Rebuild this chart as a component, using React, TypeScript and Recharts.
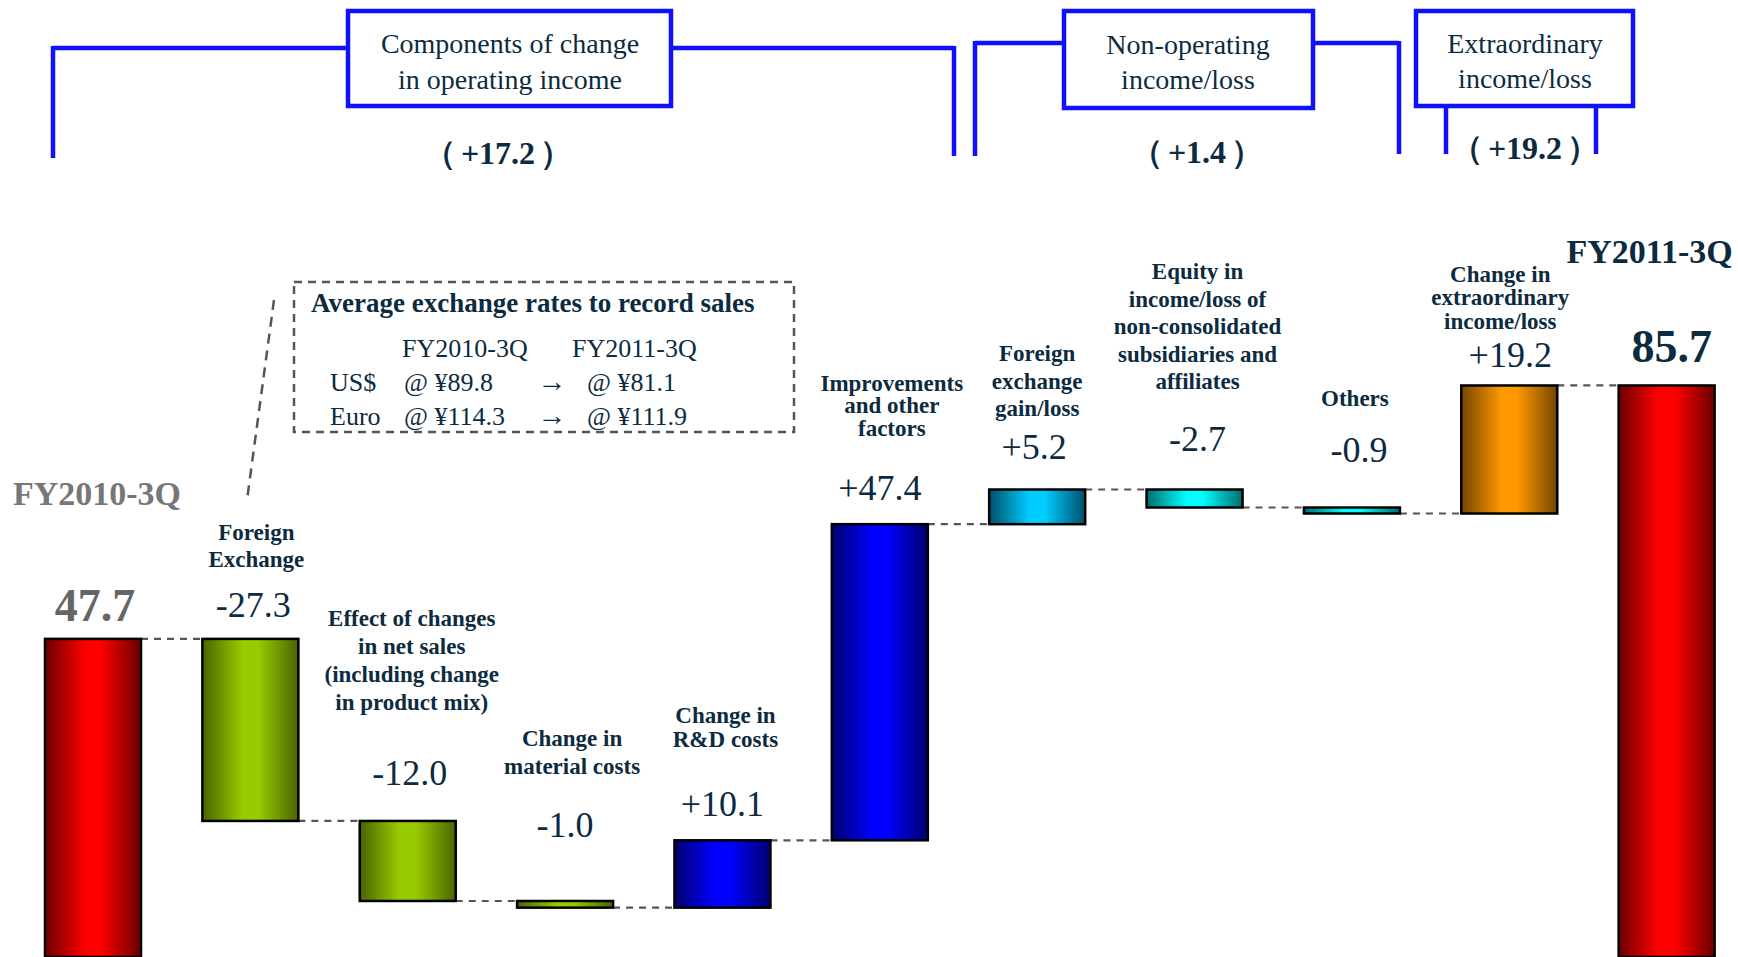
import React from 'react';
import { BarChart, Bar, XAxis, YAxis, LabelList } from 'recharts';

// waterfall: operating income FY2010-3Q -> FY2011-3Q (billion yen)
const categories = [
  'FY2010-3Q',
  'Foreign\nExchange',
  'Effect of changes\nin net sales\n(including change\nin product mix)',
  'Change in\nmaterial costs',
  'Change in\nR&D costs',
  'Improvements\nand other\nfactors',
  'Foreign\nexchange\ngain/loss',
  'Equity in\nincome/loss of\nnon-consolidated\nsubsidiaries and\naffiliates',
  'Others',
  'Change in\nextraordinary\nincome/loss',
  'FY2011-3Q',
];
const changes = [47.7, -27.3, -12.0, -1.0, 10.1, 47.4, 5.2, -2.7, -0.9, 19.2, 85.7];
const isTotal = [true, false, false, false, false, false, false, false, false, false, true];
const valueLabels = ['47.7', '-27.3', '-12.0', '-1.0', '+10.1', '+47.4', '+5.2', '-2.7', '-0.9', '+19.2', '85.7'];
const barColors = ['red', 'green', 'green', 'green', 'blue', 'blue', 'sky', 'aqua', 'aqua', 'orange', 'red'];

const groupTitles = [
  ['Components of change', 'in operating income'],
  ['Non-operating', 'income/loss'],
  ['Extraordinary', 'income/loss'],
];
const groupTotals = ['（+17.2）', '（+1.4）', '（+19.2）'];

const rateTitle = 'Average exchange rates to record sales';
const ratePeriods = ['FY2010-3Q', 'FY2011-3Q'];
const rateCurrencies = ['US$', 'Euro'];
const ratesBefore = ['@ ¥89.8', '@ ¥114.3'];
const ratesAfter = ['@ ¥81.1', '@ ¥111.9'];

const gradients: Record<string, [string, string]> = {
  red: ['#6a0000', '#ff0000'],
  green: ['#4a6400', '#99cc00'],
  blue: ['#00006e', '#0000ff'],
  sky: ['#004f6a', '#00ccff'],
  aqua: ['#006c6c', '#00ffff'],
  orange: ['#744500', '#ff9900'],
};

const NAVY = '#0c2b3f';
const BRACKET = '#1010ff';
const FONT = '"Liberation Serif", "Times New Roman", serif';

const W = 1738;
const H = 957;
const CHART_W = 1745;
const MARGIN = { top: 0, right: 0, left: 14, bottom: 0 };
const BAR = 96;
const Y_MAX = 143.5;
const BAND = (CHART_W - MARGIN.left - MARGIN.right) / categories.length;

// label placement above each bar top (px)
const valueLift = [33, 34, 48, 76, 36, 36, 43, 51, 58, 30, 39];
const valueShift = [2, 3, 2, 0, 0, 0, -3, 3, 7, 1, 5];
const nameLift = [145, 79, 118, 134, 101, 96, 81, 108, 109, 64, 134];
const nameShift = [4, 6, 4, 7, 3, 12, 0, 3, 3, -9, -17];
const nameLeading = [0, 27.5, 28.3, 28, 24, 22.5, 27.5, 27.5, 0, 23.5, 0];

const rows = (() => {
  let running = 0;
  return categories.map((name, i) => {
    if (isTotal[i]) {
      running = changes[i];
      return { name, idx: i, base: 0, size: changes[i] };
    }
    const start = running;
    running = start + changes[i];
    return { name, idx: i, base: Math.min(start, running), size: Math.abs(changes[i]) };
  });
})();

const WaterfallShape = (props: any) => {
  const { x, y, width, height, payload } = props;
  const i = payload.idx;
  const levelY = changes[i] < 0 && !isTotal[i] ? y + height : y;
  return (
    <g>
      {i < categories.length - 1 && (
        <line
          x1={x + width}
          x2={x + BAND}
          y1={levelY}
          y2={levelY}
          stroke="#555"
          strokeWidth={2.2}
          strokeDasharray="7 6"
        />
      )}
      <rect
        x={x}
        y={y}
        width={width}
        height={height}
        fill={`url(#wf-${barColors[i]})`}
        stroke="#000"
        strokeWidth={2.5}
      />
    </g>
  );
};

const renderLabels = (props: any) => {
  const vb = props.viewBox || {};
  const x = props.x ?? vb.x;
  const y = props.y ?? vb.y;
  const width = props.width ?? vb.width;
  const i = Number(props.value);
  const cx = x + width / 2;
  const total = isTotal[i];
  const lines = categories[i].split('\n');
  const lastY = y - nameLift[i];
  return (
    <g key={`lbl-${i}`} fontFamily={FONT}>
      <text
        x={cx + valueShift[i]}
        y={y - valueLift[i]}
        textAnchor="middle"
        dominantBaseline="central"
        fontSize={total ? 46 : 36}
        fontWeight={total ? 700 : 400}
        fill={i === 0 ? '#666' : NAVY}
      >
        {valueLabels[i]}
      </text>
      {lines.map((ln, j) => (
        <text
          key={j}
          x={cx + nameShift[i]}
          y={lastY - (lines.length - 1 - j) * nameLeading[i]}
          textAnchor="middle"
          dominantBaseline="central"
          fontSize={total ? 34 : 23}
          fontWeight={700}
          fill={i === 0 ? '#777' : NAVY}
        >
          {ln}
        </text>
      ))}
    </g>
  );
};

function Annotations() {
  const box = (x: number, y: number, w: number, h: number) => (
    <rect x={x} y={y} width={w} height={h} fill="#fff" stroke={BRACKET} strokeWidth={4.5} />
  );
  const titleText = (cx: number, ys: number[], lines: string[]) =>
    lines.map((ln, j) => (
      <text key={j} x={cx} y={ys[j]} textAnchor="middle" dominantBaseline="central" fontSize={28} fill={NAVY}>
        {ln}
      </text>
    ));
  const totalText = (cx: number, cy: number, s: string) => (
    <text x={cx} y={cy} textAnchor="middle" dominantBaseline="central" fontSize={32} fontWeight={700} fill={NAVY}>
      <tspan>{s.slice(0, 1)}</tspan>
      <tspan dx={5}>{s.slice(1, -1)}</tspan>
      <tspan dx={5}>{s.slice(-1)}</tspan>
    </text>
  );
  return (
    <svg
      width={W}
      height={H}
      style={{ position: 'absolute', left: 0, top: 0, pointerEvents: 'none' }}
      fontFamily={FONT}
    >
      {/* operating income bracket */}
      <line x1={53} x2={954} y1={48} y2={48} stroke={BRACKET} strokeWidth={4.5} />
      <line x1={53} x2={53} y1={46} y2={158} stroke={BRACKET} strokeWidth={4.5} />
      <line x1={954} x2={954} y1={46} y2={156} stroke={BRACKET} strokeWidth={4.5} />
      {box(348, 11, 323, 95)}
      {titleText(510, [43, 79], groupTitles[0])}
      {totalText(498, 153, groupTotals[0])}

      {/* non-operating bracket */}
      <line x1={975} x2={1399} y1={43} y2={43} stroke={BRACKET} strokeWidth={4.5} />
      <line x1={975} x2={975} y1={41} y2={156} stroke={BRACKET} strokeWidth={4.5} />
      <line x1={1399} x2={1399} y1={41} y2={154} stroke={BRACKET} strokeWidth={4.5} />
      {box(1064, 11, 249, 97)}
      {titleText(1188, [44, 79], groupTitles[1])}
      {totalText(1197, 152, groupTotals[1])}

      {/* extraordinary bracket */}
      <line x1={1446} x2={1446} y1={106} y2={154} stroke={BRACKET} strokeWidth={4.5} />
      <line x1={1596} x2={1596} y1={106} y2={154} stroke={BRACKET} strokeWidth={4.5} />
      {box(1416, 11, 217, 95)}
      {titleText(1525, [43, 78], groupTitles[2])}
      {totalText(1525, 148, groupTotals[2])}

      {/* exchange rate note */}
      <rect x={294} y={282} width={500} height={150} fill="none" stroke="#555" strokeWidth={2.5} strokeDasharray="8 6" />
      <line x1={274} y1={300} x2={247} y2={500} stroke="#555" strokeWidth={2.5} strokeDasharray="10 7" />
      <text x={311} y={303} dominantBaseline="central" fontSize={27} fontWeight={700} fill={NAVY}>
        {rateTitle}
      </text>
      <text x={402} y={348} dominantBaseline="central" fontSize={26} fill={NAVY}>{ratePeriods[0]}</text>
      <text x={572} y={348} dominantBaseline="central" fontSize={26} fill={NAVY}>{ratePeriods[1]}</text>
      {rateCurrencies.map((c, j) => (
        <g key={c}>
          <text x={330} y={382 + j * 34} dominantBaseline="central" fontSize={26} fill={NAVY}>{c}</text>
          <text x={404} y={382 + j * 34} dominantBaseline="central" fontSize={26} fill={NAVY}>{ratesBefore[j]}</text>
          <text x={552} y={381 + j * 34} textAnchor="middle" dominantBaseline="central" fontSize={29} fill={NAVY}>→</text>
          <text x={587} y={382 + j * 34} dominantBaseline="central" fontSize={26} fill={NAVY}>{ratesAfter[j]}</text>
        </g>
      ))}
    </svg>
  );
}

export default function App() {
  return (
    <div
      style={{
        position: 'absolute',
        left: 0,
        top: 0,
        width: W,
        height: H,
        overflow: 'hidden',
        background: '#fff',
        fontFamily: FONT,
      }}
    >
      <BarChart width={CHART_W} height={H} data={rows} margin={MARGIN} barCategoryGap={0}>
        <defs>
          {Object.entries(gradients).map(([k, [dark, bright]]) => (
            <linearGradient key={k} id={`wf-${k}`} x1="0" y1="0" x2="1" y2="0">
              <stop offset="0%" stopColor={dark} />
              <stop offset="42%" stopColor={bright} />
              <stop offset="58%" stopColor={bright} />
              <stop offset="100%" stopColor={dark} />
            </linearGradient>
          ))}
        </defs>
        <XAxis dataKey="name" hide />
        <YAxis type="number" domain={[0, Y_MAX]} allowDataOverflow hide />
        <Bar dataKey="base" stackId="w" fill="transparent" barSize={BAR} isAnimationActive={false} />
        <Bar dataKey="size" stackId="w" barSize={BAR} shape={WaterfallShape} isAnimationActive={false}>
          <LabelList dataKey="idx" content={renderLabels} />
        </Bar>
      </BarChart>
      <Annotations />
    </div>
  );
}
